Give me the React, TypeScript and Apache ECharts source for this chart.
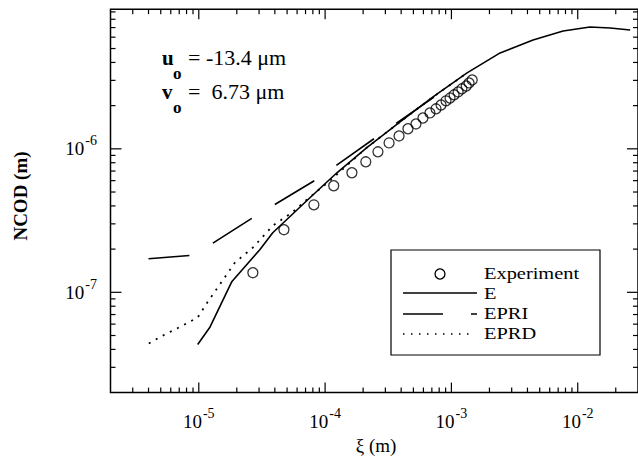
import React, { useEffect, useRef } from "react";
import * as echarts from "echarts";

// ---- data ----
const expX = [2.68e-5, 4.72e-5, 8.15e-5, 1.17e-4, 1.63e-4, 2.1e-4, 2.62e-4, 3.21e-4, 3.85e-4, 4.53e-4, 5.24e-4, 5.95e-4, 6.76e-4, 7.55e-4, 8.28e-4, 9.06e-4, 9.75e-4, 1.05e-3, 1.13e-3, 1.21e-3, 1.31e-3, 1.38e-3, 1.46e-3];
const expY = [1.37e-7, 2.73e-7, 4.07e-7, 5.53e-7, 6.81e-7, 8.12e-7, 9.53e-7, 1.1e-6, 1.23e-6, 1.38e-6, 1.49e-6, 1.64e-6, 1.78e-6, 1.9e-6, 2.02e-6, 2.16e-6, 2.26e-6, 2.38e-6, 2.49e-6, 2.62e-6, 2.74e-6, 2.88e-6, 3.02e-6];

const eX = [9.8e-6, 1.22e-5, 1.83e-5, 3.04e-5, 3.85e-5, 7.58e-5, 1.24e-4, 2.14e-4, 3.92e-4, 7.15e-4, 1.33e-3, 2.43e-3, 4.43e-3, 7.66e-3, 1.25e-2, 1.81e-2, 2.6e-2];
const eY = [4.33e-8, 5.68e-8, 1.19e-7, 1.98e-7, 2.6e-7, 4.56e-7, 6.81e-7, 1.02e-6, 1.54e-6, 2.3e-6, 3.38e-6, 4.66e-6, 5.73e-6, 6.63e-6, 7.06e-6, 6.95e-6, 6.73e-6];

const epriX = [4.0e-6, 9.13e-6, 2.68e-5, 8.45e-5, 2.62e-4, 8.13e-4];
const epriY = [1.715e-7, 1.815e-7, 3.31e-7, 6.08e-7, 1.23e-6, 2.45e-6];

const eprdX = [4.02e-6, 5.38e-6, 7.2e-6, 9.8e-6, 1.18e-5, 1.58e-5, 1.93e-5, 2.68e-5, 3.85e-5, 5.46e-5, 7.31e-5, 1.09e-4, 2.14e-4, 3.92e-4, 7.15e-4, 1.33e-3];
const eprdY = [4.4e-8, 5.08e-8, 5.77e-8, 6.67e-8, 8.61e-8, 1.245e-7, 1.61e-7, 2.05e-7, 2.91e-7, 3.59e-7, 4.49e-7, 5.99e-7, 1.02e-6, 1.54e-6, 2.3e-6, 3.38e-6];

const xDecades = [-6, -5, -4, -3, -2];
const yDecades = [-8, -7, -6];
const X_MIN = 2e-6;
const X_MAX = 3e-2;
const Y_MIN = 2e-8;
const Y_MAX = 9.4e-6;

const legendNames = ["Experiment", "E", "EPRI", "EPRD"];
const annotU = "= -13.4 \u03bcm";
const annotV = "=  6.73 \u03bcm";

const SERIF = "'Liberation Serif', 'Times New Roman', serif";

function zip(a: number[], b: number[]) {
  return a.map((v, i) => [v, b[i]]);
}

function buildTicks(decades: number[], lo: number, hi: number) {
  const out: number[][] = [];
  decades.forEach((d) => {
    for (let m = 1; m <= 9; m++) {
      const v = m * Math.pow(10, d);
      if (v > lo * 1.0001 && v < hi * 0.9999) out.push([v, m === 1 ? 1 : 0]);
    }
  });
  return out;
}

function labelFmt(value: number) {
  const e = Math.log10(value);
  const r = Math.round(e);
  if (Math.abs(e - r) > 1e-6) return "";
  return `{b|10}{s|${r}}`;
}

const labelRich = {
  b: { fontSize: 19, fontFamily: SERIF, color: "#000", lineHeight: 30 },
  s: { fontSize: 14, fontFamily: SERIF, color: "#000", lineHeight: 13, verticalAlign: "top", padding: [0, 0, 0, 1] },
};

function txt(text: string, x: number, y: number, font: string, align = "left", rotation = 0, scaleX = 1) {
  return {
    type: "text",
    x,
    y,
    rotation,
    scaleX,
    silent: true,
    style: {
      text,
      font,
      fill: "#000",
      align,
      verticalAlign: "middle",
      textAlign: align,
      textVerticalAlign: "middle",
    },
  };
}

export default function App() {
  const ref = useRef<HTMLDivElement>(null);

  useEffect(() => {
    if (!ref.current) return;
    const chart = echarts.init(ref.current, undefined, { renderer: "svg" });

    const xTicks = buildTicks(xDecades, X_MIN, X_MAX);
    const yTicks = buildTicks(yDecades, Y_MIN, Y_MAX);
    const tickStyle = { stroke: "#000", lineWidth: 1.2 };
    const legendRowsY = [273.5, 293.5, 313.5, 333.5];

    const option: any = {
      animation: false,
      backgroundColor: "#fff",
      textStyle: { fontFamily: SERIF },
      grid: {
        left: 110.5,
        right: 0,
        top: 9.2,
        bottom: 75.4,
        show: true,
        borderColor: "#000",
        borderWidth: 1.5,
        backgroundColor: "transparent",
        containLabel: false,
        outerBoundsMode: "none",
      },
      xAxis: {
        type: "log",
        logBase: 10,
        min: X_MIN,
        max: X_MAX,
        axisLine: { show: false },
        axisTick: { show: false },
        splitLine: { show: false },
        axisLabel: { formatter: labelFmt, rich: labelRich, margin: 14, color: "#000", fontFamily: SERIF },
      },
      yAxis: {
        type: "log",
        logBase: 10,
        min: Y_MIN,
        max: Y_MAX,
        axisLine: { show: false },
        axisTick: { show: false },
        splitLine: { show: false },
        axisLabel: { formatter: labelFmt, rich: labelRich, margin: 13.5, color: "#000", fontFamily: SERIF },
      },
      series: [
        {
          name: "xticks",
          type: "custom",
          coordinateSystem: "cartesian2d",
          silent: true,
          data: xTicks.map((t) => [t[0], 1e-7, t[1]]),
          encode: { x: 0, y: 1 },
          renderItem: (params: any, api: any) => {
            const cs = params.coordSys;
            const px = api.coord([api.value(0), 1e-7])[0];
            const len = api.value(2) ? 10 : 5;
            const bottom = cs.y + cs.height;
            const top = cs.y;
            return {
              type: "group",
              children: [
                { type: "line", shape: { x1: px, y1: bottom, x2: px, y2: bottom - len }, style: tickStyle },
                { type: "line", shape: { x1: px, y1: top, x2: px, y2: top + len }, style: tickStyle },
              ],
            };
          },
        },
        {
          name: "yticks",
          type: "custom",
          coordinateSystem: "cartesian2d",
          silent: true,
          data: yTicks.map((t) => [1e-4, t[0], t[1]]),
          encode: { x: 0, y: 1 },
          renderItem: (params: any, api: any) => {
            const cs = params.coordSys;
            const py = api.coord([1e-4, api.value(1)])[1];
            const len = api.value(2) ? 11 : 5;
            const left = cs.x;
            const right = cs.x + cs.width;
            return {
              type: "group",
              children: [
                { type: "line", shape: { x1: left, y1: py, x2: left + len, y2: py }, style: tickStyle },
                { type: "line", shape: { x1: right, y1: py, x2: right - len, y2: py }, style: tickStyle },
              ],
            };
          },
        },
        {
          name: "E",
          type: "line",
          data: zip(eX, eY),
          showSymbol: false,
          symbol: "none",
          lineStyle: { color: "#000", width: 1.6, type: "solid" },
        },
        {
          name: "EPRI",
          type: "line",
          data: zip(epriX, epriY),
          showSymbol: false,
          symbol: "none",
          lineStyle: { color: "#000", width: 1.6, type: [46, 27], dashOffset: 5 },
        },
        {
          name: "EPRD",
          type: "line",
          data: zip(eprdX, eprdY),
          showSymbol: false,
          symbol: "none",
          lineStyle: { color: "#000", width: 1.8, type: [2, 6] },
        },
        {
          name: "Experiment",
          type: "scatter",
          data: zip(expX, expY),
          symbol: "circle",
          symbolSize: 10,
          itemStyle: { color: "transparent", borderColor: "#000", borderWidth: 1.3 },
        },
      ],
      graphic: {
        elements: [
          txt("NCOD (m)", 20, 196, `bold 19px ${SERIF}`, "center", Math.PI / 2),
          txt("\u03be (m)", 376, 445, `19px ${SERIF}`, "center"),
          // annotation
          txt("u", 162, 58, `bold 21px ${SERIF}`),
          txt("o", 173, 73, `bold 17px ${SERIF}`),
          txt(annotU, 188, 58, `20px ${SERIF}`, "left", 0, 1.1),
          txt("v", 162, 92, `bold 21px ${SERIF}`),
          txt("o", 173, 107, `bold 17px ${SERIF}`),
          txt(annotV, 188, 92, `20px ${SERIF}`, "left", 0, 1.1),
          // legend box
          {
            type: "rect",
            silent: true,
            shape: { x: 391, y: 250, width: 209, height: 105 },
            style: { fill: "#fff", stroke: "#000", lineWidth: 1.2 },
          },
          {
            type: "circle",
            silent: true,
            shape: { cx: 440, cy: 274, r: 5 },
            style: { fill: "none", stroke: "#000", lineWidth: 1.3 },
          },
          {
            type: "line",
            silent: true,
            shape: { x1: 403, y1: 293, x2: 477, y2: 293 },
            style: { stroke: "#000", lineWidth: 1.4 },
          },
          {
            type: "line",
            silent: true,
            shape: { x1: 403, y1: 314, x2: 477, y2: 314 },
            style: { stroke: "#000", lineWidth: 1.4, lineDash: [40, 28] },
          },
          {
            type: "line",
            silent: true,
            shape: { x1: 403, y1: 334, x2: 469, y2: 334 },
            style: { stroke: "#000", lineWidth: 1.4, lineDash: [1.5, 6.5] },
          },
          ...legendNames.map((n, i) => txt(n, 484, legendRowsY[i], `17px ${SERIF}`, "left", 0, 1.2)),
        ],
      },
    };

    chart.setOption(option);
    return () => chart.dispose();
  }, []);

  return (
    <div
      ref={ref}
      style={{ position: "fixed", left: 0, top: 0, width: 638, height: 468, background: "#fff" }}
    />
  );
}
